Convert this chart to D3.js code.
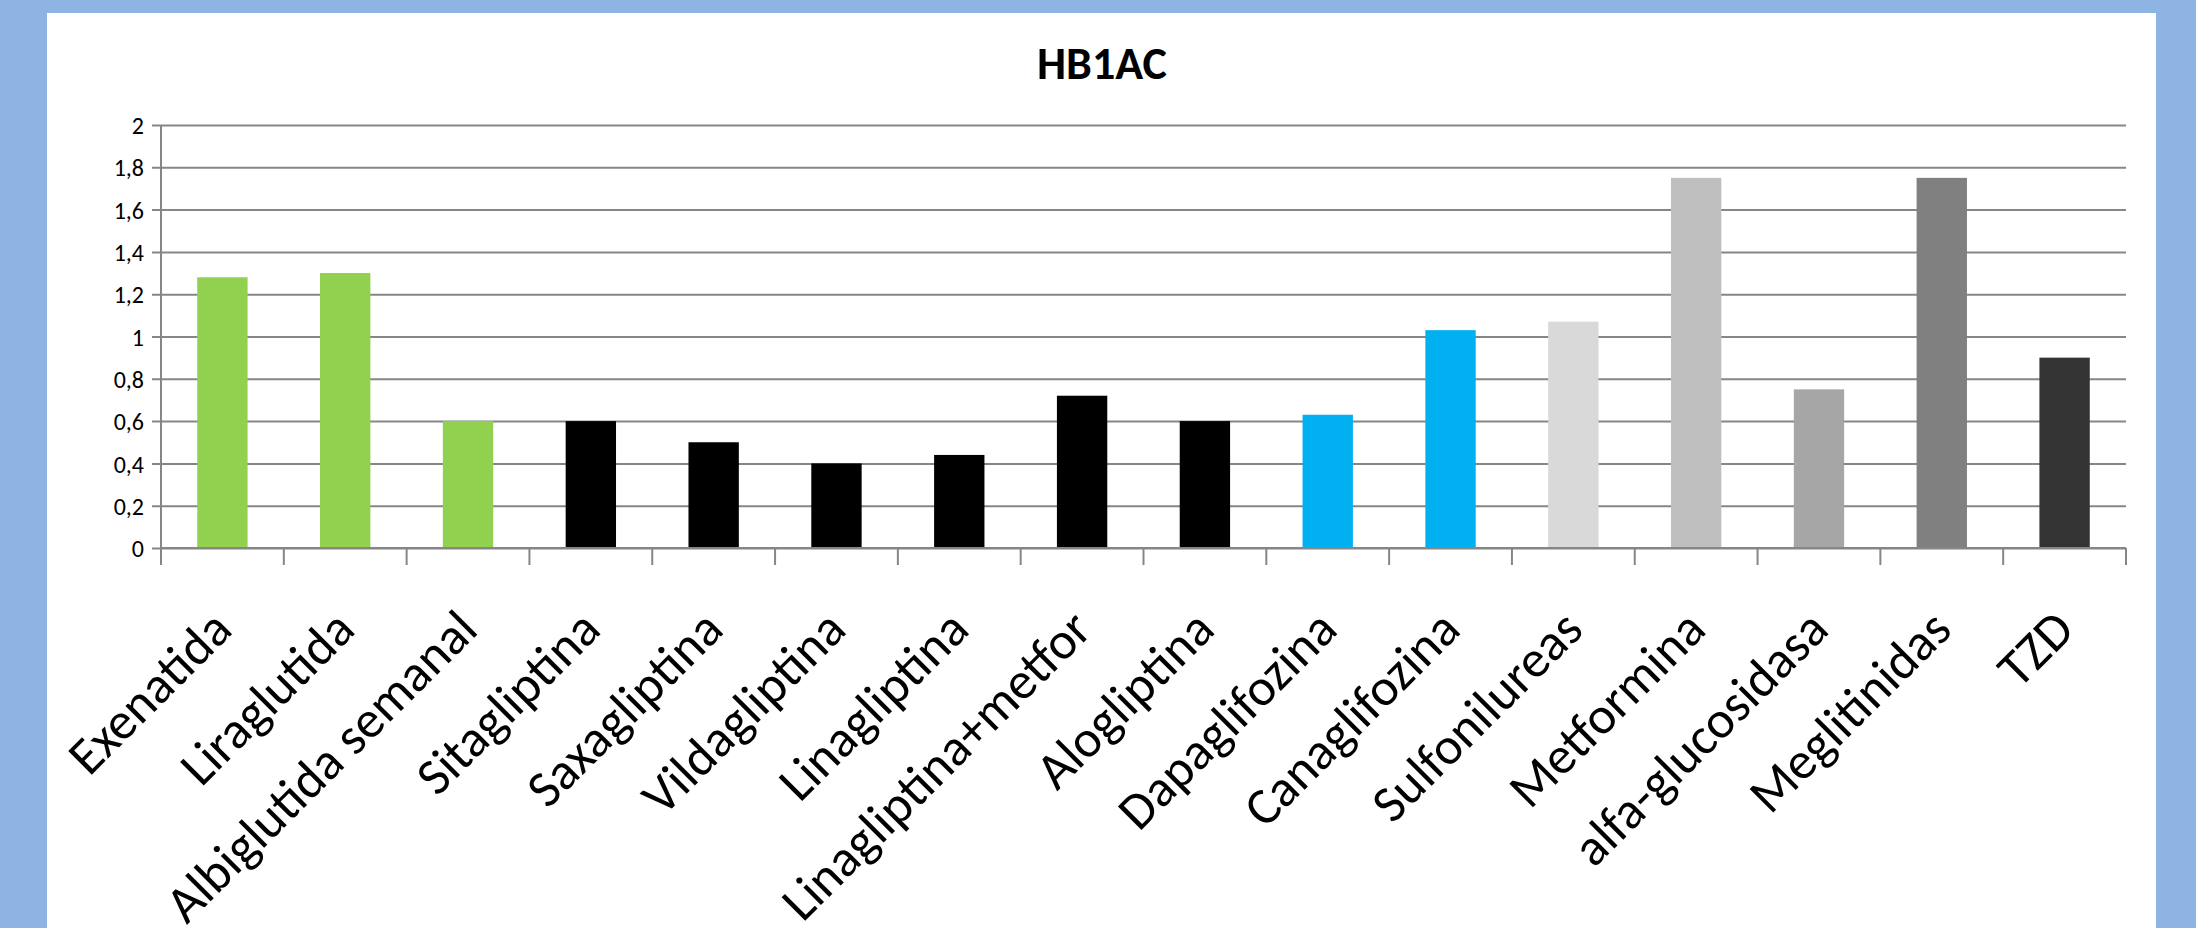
<!DOCTYPE html>
<html>
<head>
<meta charset="utf-8">
<script src="https://cdn.jsdelivr.net/npm/d3@7"></script>
<style>
  html, body { margin: 0; padding: 0; background: #8eb4e3; }
  svg { display: block; }
  text { font-family: Carlito, Calibri, Lato, "Open Sans", sans-serif; fill: #000; }
</style>
</head>
<body>
<script>
// Chart data
var categories = ["Exenatida", "Liraglutida", "Albiglutida semanal", "Sitagliptina", "Saxagliptina",
  "Vildagliptina", "Linagliptina", "Linagliptina+metfor", "Alogliptina", "Dapaglifozina",
  "Canaglifozina", "Sulfonilureas", "Metformina", "alfa-glucosidasa", "Meglitinidas", "TZD"];
var values = [1.28, 1.30, 0.60, 0.60, 0.50, 0.40, 0.44, 0.72, 0.60, 0.63, 1.03, 1.07, 1.75, 0.75, 1.75, 0.90];
var barColors = ["#92d050", "#92d050", "#92d050", "#000000", "#000000", "#000000", "#000000", "#000000",
  "#000000", "#00b0f0", "#00b0f0", "#d9d9d9", "#bfbfbf", "#a6a6a6", "#808080", "#333333"];
var yTicks = [0, 0.2, 0.4, 0.6, 0.8, 1, 1.2, 1.4, 1.6, 1.8, 2];
var title = "HB1AC";

// Dimensions
var width = 2196;
var height = 928;
var margin = { top: 125, right: 70, bottom: 380, left: 161 };
var plotWidth = width - margin.left - margin.right;
var plotHeight = height - margin.top - margin.bottom;

var svg = d3.select("body")
  .append("svg")
  .attr("width", width)
  .attr("height", height);

// white chart area inside the blue frame
svg.append("rect")
  .attr("x", 47)
  .attr("y", 13)
  .attr("width", 2156 - 47)
  .attr("height", height - 13)
  .style("fill", "#ffffff");

var xScale = d3.scaleBand().domain(categories).range([0, plotWidth]).padding(0);
var yScale = d3.scaleLinear().domain([0, 2]).range([plotHeight, 0]);

var g = svg.append("g")
  .attr("transform", "translate(" + margin.left + "," + margin.top + ")");

// gridlines + y ticks
var yAxis = d3.axisLeft(yScale)
  .tickValues(yTicks)
  .tickSize(-plotWidth)
  .tickPadding(17)
  .tickFormat(function(d) { return String(d).replace(".", ","); });

var yG = g.append("g").attr("class", "axis y").call(yAxis);
yG.select(".domain").remove();
yG.selectAll(".tick line")
  .attr("x1", -9)
  .style("stroke", "#868686")
  .style("stroke-width", 2);
yG.selectAll(".tick text")
  .style("font-size", "24px")
  .attr("dy", "0.36em");

// vertical axis line
g.append("line")
  .attr("x1", 0).attr("x2", 0)
  .attr("y1", 0).attr("y2", plotHeight)
  .style("stroke", "#868686")
  .style("stroke-width", 2);

// bars
var barWidth = xScale.bandwidth() * 0.41;
g.selectAll("rect.bar")
  .data(values)
  .enter().append("rect")
  .attr("class", "bar")
  .attr("x", function(d, i) { return xScale(categories[i]) + (xScale.bandwidth() - barWidth) / 2; })
  .attr("y", function(d) { return yScale(d); })
  .attr("width", barWidth)
  .attr("height", function(d) { return plotHeight - yScale(d); })
  .style("fill", function(d, i) { return barColors[i]; });

// x axis with ticks at category boundaries
g.append("line")
  .attr("x1", 0).attr("x2", plotWidth)
  .attr("y1", plotHeight).attr("y2", plotHeight)
  .style("stroke", "#868686")
  .style("stroke-width", 2);

var boundaries = categories.map(function(c) { return xScale(c); }).concat([plotWidth]);
g.selectAll("line.xtick")
  .data(boundaries)
  .enter().append("line")
  .attr("class", "xtick")
  .attr("x1", function(d) { return d; })
  .attr("x2", function(d) { return d; })
  .attr("y1", plotHeight)
  .attr("y2", plotHeight + 17)
  .style("stroke", "#868686")
  .style("stroke-width", 2);

// rotated category labels
g.selectAll("text.xlabel")
  .data(categories)
  .enter().append("text")
  .attr("class", "xlabel")
  .attr("transform", function(d) {
    var x = xScale(d) + xScale.bandwidth() / 2 + 12;
    return "translate(" + x + "," + (plotHeight + 84) + ") rotate(-45)";
  })
  .style("text-anchor", "end")
  .style("font-size", "52px")
  .text(function(d) { return d; });

// title
svg.append("text")
  .attr("x", 1102)
  .attr("y", 79)
  .style("text-anchor", "middle")
  .style("font-size", "46px")
  .style("font-weight", "bold")
  .text(title);
</script>
</body>
</html>
